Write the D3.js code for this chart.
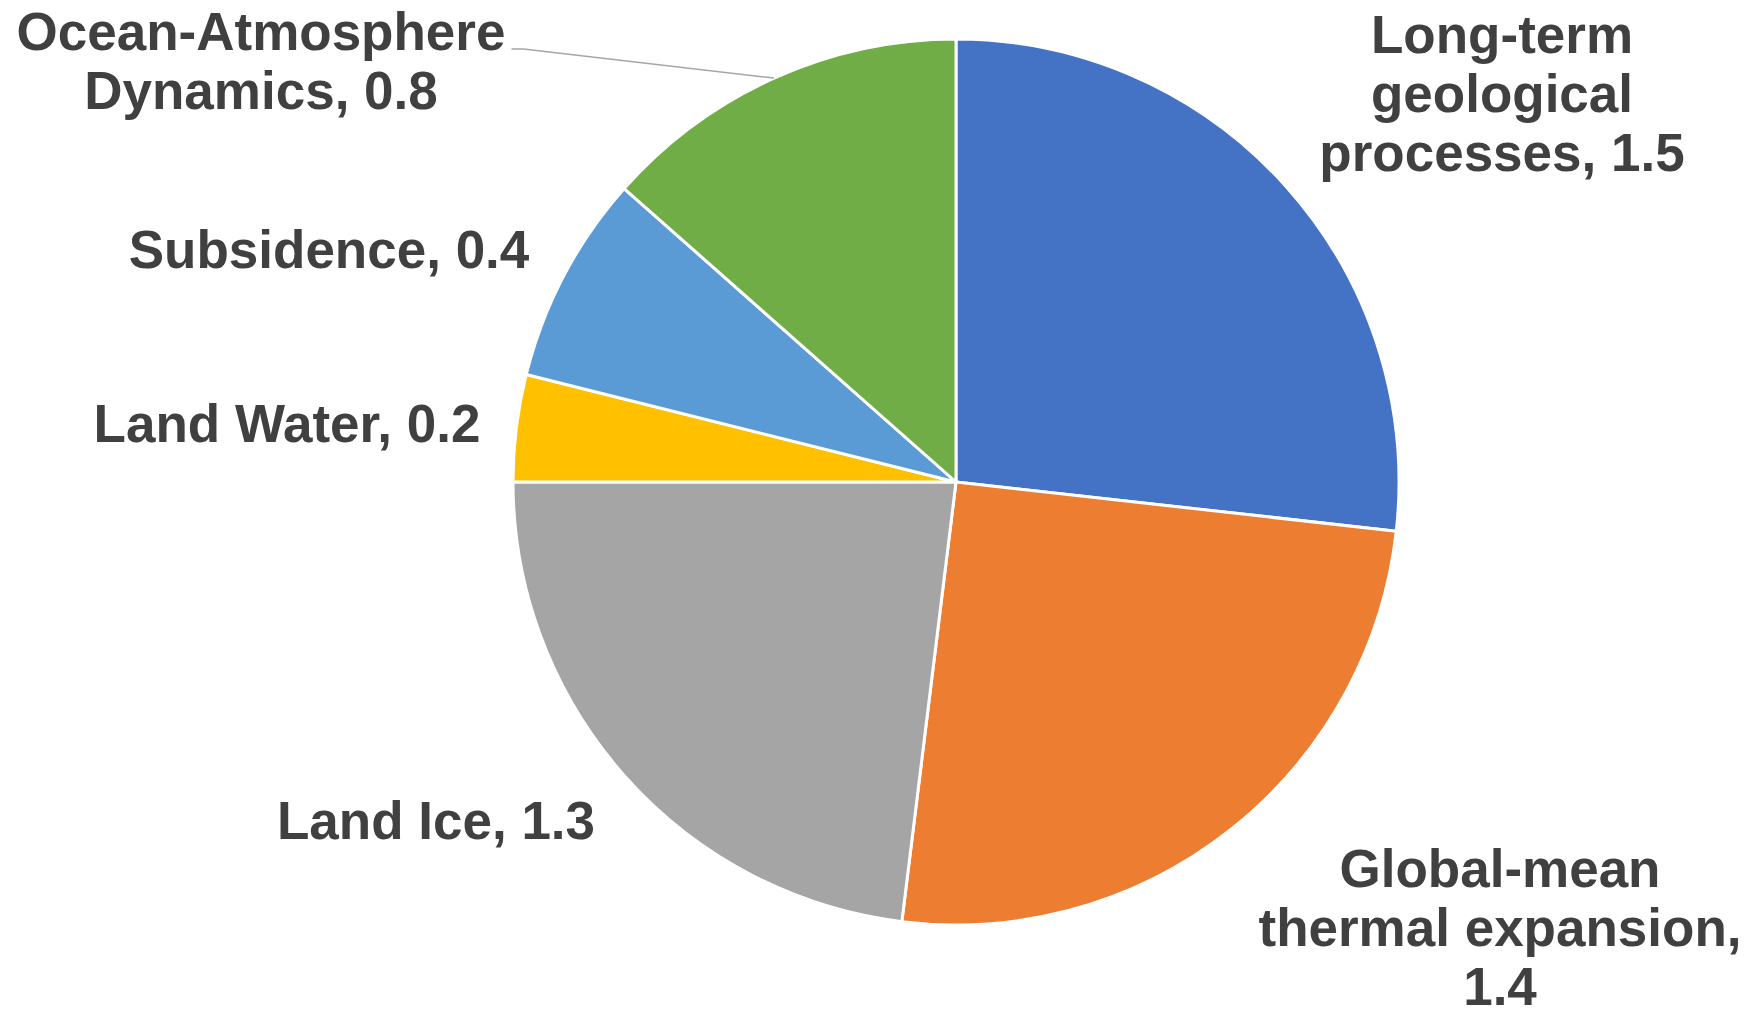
<!DOCTYPE html>
<html>
<head>
<meta charset="utf-8">
<script src="https://cdn.jsdelivr.net/npm/d3@7"></script>
<style>
  html, body { margin: 0; padding: 0; background: #fff; }
  svg { display: block; }
  .lbl { font-family: "Liberation Sans", Arial, sans-serif; font-weight: bold; font-size: 53px; fill: #404040; }
</style>
</head>
<body>
<svg id="chart"></svg>
<script>
// data (slice sizes; labels show them rounded to 1 decimal)
const categories = ["Long-term geological processes", "Global-mean thermal expansion", "Land Ice",
                    "Land Water", "Subsidence", "Ocean-Atmosphere Dynamics"];
const values = [1.51, 1.42, 1.30, 0.22, 0.43, 0.76];
const labelNames = [
  ["Long-term", "geological", "processes,"],
  ["Global-mean", "thermal expansion,", ""],
  ["Land Ice,"],
  ["Land Water,"],
  ["Subsidence,"],
  ["Ocean-Atmosphere", "Dynamics,"]
];
const colors = ["#4472C4", "#ED7D31", "#A5A5A5", "#FFC000", "#5B9BD5", "#70AD47"];

// layout
const width = 1749, height = 1010;
const cx = 956, cy = 482, radius = 443;
const lineH = 59;
// label anchor (text centre x, first baseline y) relative to pie centre
const labelOffset = [[546, -429], [544, 405], [-520, 357], [-669, -40], [-627, -214], [-695, -432]];

let fmt = d3.format(".1f");

let svg = d3.select("#chart").attr("width", width).attr("height", height);
let g = svg.append("g").attr("transform", `translate(${cx},${cy})`);

let pie = d3.pie().sort(null).value(d => d);
let arc = d3.arc().innerRadius(0).outerRadius(radius);
let arcs = pie(values);

g.selectAll("path.slice")
  .data(arcs)
  .enter().append("path")
  .attr("class", "slice")
  .attr("d", arc)
  .attr("fill", (d, i) => colors[i])
  .attr("stroke", "#fff")
  .attr("stroke-width", 3)
  .attr("stroke-linejoin", "round");

// labels: name lines, value appended to the last line (or its own line if empty)
let labels = g.selectAll("text.lbl")
  .data(arcs)
  .enter().append("text")
  .attr("class", "lbl")
  .attr("text-anchor", "middle")
  .attr("x", (d, i) => labelOffset[i][0])
  .attr("y", (d, i) => labelOffset[i][1]);

labels.each(function(d, i) {
  let t = d3.select(this);
  let lines = labelNames[i].slice();
  let last = lines.length - 1;
  lines[last] = lines[last] === "" ? fmt(d.data) : lines[last] + " " + fmt(d.data);
  lines.forEach((s, k) => {
    t.append("tspan")
      .attr("x", labelOffset[i][0])
      .attr("dy", k === 0 ? 0 : lineH)
      .text(s);
  });
});

// leader line for the Ocean-Atmosphere label (first line end -> slice edge)
let oi = 5;
let firstSpan = labels.filter((d, i) => i === oi).select("tspan").node();
let bb = firstSpan.getBBox();
let mid = (arcs[oi].startAngle + arcs[oi].endAngle) / 2;
let x0 = bb.x + bb.width + 6, y0 = labelOffset[oi][1] - 1;
g.append("path")
  .attr("d", d3.line()([[x0, y0], [x0 + 12, y0], [Math.sin(mid) * radius, -Math.cos(mid) * radius]]))
  .attr("fill", "none")
  .attr("stroke", "#A6A6A6")
  .attr("stroke-width", 1.5);
</script>
</body>
</html>
